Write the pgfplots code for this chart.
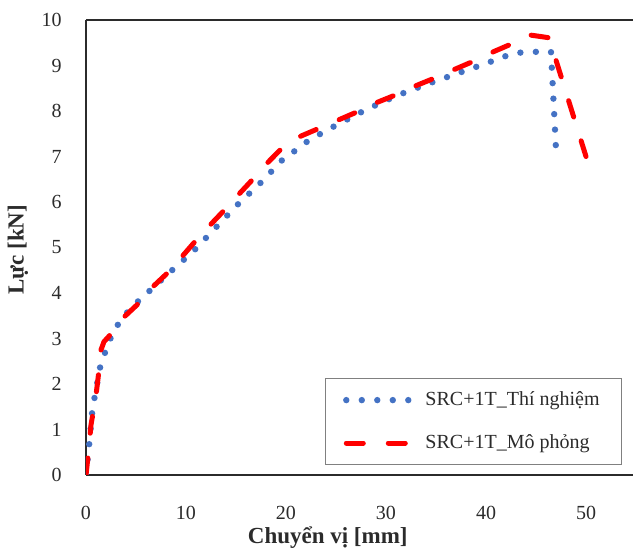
\documentclass[border=0pt]{standalone}
\usepackage{fontspec}
\setmainfont{Liberation Serif}
\usepackage{pgfplots}
\pgfplotsset{compat=1.18}
\definecolor{expblue}{HTML}{4472C4}
\definecolor{simred}{HTML}{FF0000}
\definecolor{axisgray}{HTML}{2B2B2B}
\definecolor{legframe}{HTML}{808080}

\begin{document}
\begin{tikzpicture}
\begin{axis}[
  scale only axis, width=273.5pt, height=227.5pt,
  xmin=0, xmax=54.7, ymin=0, ymax=10,
  xtick={0,10,...,50}, ytick={0,1,...,10},
  axis x line*=box, axis y line*=left,
  axis line style={-, axisgray, line width=1.2pt},
  major tick length=0pt,
  /pgf/number format/assume math mode=true,
  tick label style={font=\fontsize{10}{12}\selectfont, text=axisgray},
  xticklabel style={yshift=-12pt},
  yticklabel style={xshift=-8.7pt},
  xlabel={\textbf{Chuyển vị [mm]}},
  ylabel={\textbf{Lực [kN]}},
  label style={font=\fontsize{11.5}{13}\selectfont, text=axisgray},
  x label style={at={(rel axis cs:0.442,0)}, anchor=center, yshift=-31.5pt},
  y label style={at={(rel axis cs:0,0.495)}, anchor=center, yshift=34pt},
  legend image code/.code={\draw[#1] (0pt,0pt) -- (31.5pt,0pt);},
  legend cell align=left,
  legend style={at={(rel axis cs:0.98,0.022)}, anchor=south east,
    draw=legframe, line width=0.5pt, fill=white,
    font=\fontsize{10}{12}\selectfont, text=axisgray,
    inner xsep=9pt, inner ysep=4.5pt, row sep=9pt, column sep=4.5pt,
    nodes={inner sep=2pt}},
]
\addplot[expblue, line width=3.2pt, line cap=round, dash pattern=on 0pt off 7.75pt] coordinates {
(0,0) (0.33,0.70) (0.63,1.41) (0.9,1.76) (1.5,2.47) (2.07,2.78) (2.67,3.13)
(3.57,3.43) (4.57,3.69) (5.83,3.94) (8.2,4.42) (10.7,4.91) (12.9,5.42)
(15.1,5.93) (17.5,6.43) (19.7,6.94) (21,7.14) (22.3,7.36) (25.2,7.71)
(28.1,8.04) (31.1,8.34) (34.1,8.59) (37.2,8.83) (40.2,9.06) (41.7,9.19)
(43.2,9.28) (44.9,9.30) (46.5,9.30) (47.0,7.16)};
\addlegendentry{SRC+1T\_Thí nghiệm}
\addplot[simred, line width=2.5pt, line cap=round, line join=round, dash pattern=on 8.5pt off 12.5pt] coordinates {
(0,0) (0.2,0.4) (0.5,1.1) (1.0,1.75) (1.3,2.3) (1.5,2.75) (1.8,2.93) (2.3,3.05)
(3.6,3.43) (5.2,3.76) (6.7,4.14) (8.1,4.43) (9.6,4.8) (10.9,5.13) (12.4,5.49)
(13.7,5.79) (15.2,6.15) (16.6,6.48) (18.1,6.85) (19.4,7.14) (21.4,7.44)
(23.1,7.6) (25.1,7.79) (26.9,7.96) (28.9,8.17) (30.7,8.33) (32.7,8.53)
(34.6,8.70) (36.6,8.89) (38.5,9.07) (40.4,9.27) (42.3,9.45) (44.4,9.67)
(46.3,9.61) (50,7.0)};
\addlegendentry{SRC+1T\_Mô phỏng}
\end{axis}
\pgfresetboundingbox
\path[use as bounding box] ([xshift=-43pt,yshift=-38.5pt]current axis.south west) rectangle ([yshift=10pt]current axis.north east);
\end{tikzpicture}
\end{document}
